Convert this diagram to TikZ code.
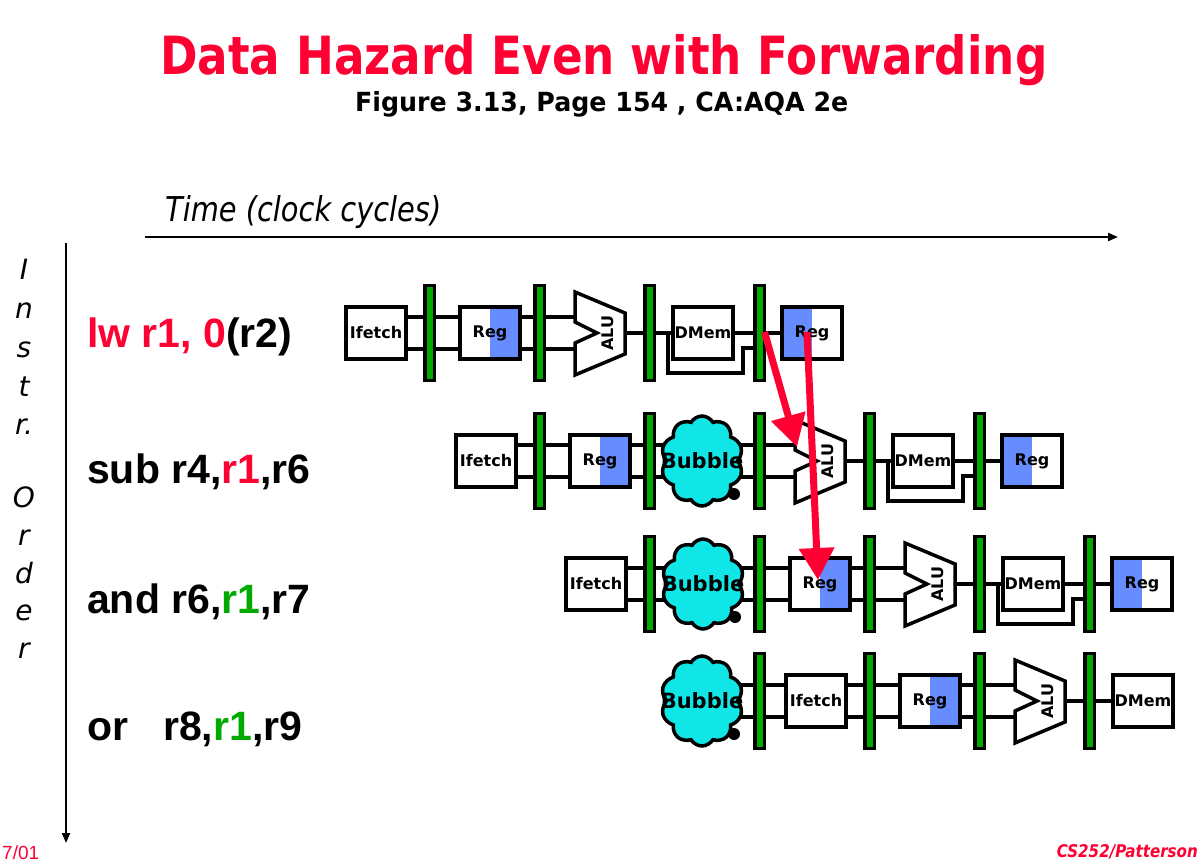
\documentclass[tikz,border=0pt]{standalone}
\usepackage{fontspec}
\setmainfont{Liberation Sans}
\newfontfamily\handfont{DejaVu Sans}
\usetikzlibrary{shapes.symbols,arrows.meta,calc}

\definecolor{hazred}{RGB}{255,0,51}
\definecolor{dkgreen}{RGB}{0,170,0}
\definecolor{latchgreen}{RGB}{0,168,0}
\definecolor{regblue}{RGB}{102,140,255}
\definecolor{bubblecyan}{RGB}{16,230,230}

\pgfdeclarelayer{wires}
\pgfsetlayers{wires,main}

% two parallel datapath wires, one single wire, and the bypass loop round DMem
\newcommand\dwire[2]{\draw[wire] ([yshift=16pt]#1) -- ([yshift=16pt]#2) ([yshift=-16pt]#1) -- ([yshift=-16pt]#2);}
\newcommand\swire[2]{\draw[wire] (#1) -- (#2);}
\newcommand\bypass[2]{\draw[wire] ($(#1.east)+(12,0)$) |- ($(#2.west)+(-10,40)$) |- ($(#2.west)+(0,15)$);}

\tikzset{
  lbl/.style={font=\handfont\bfseries\fontsize{16}{16}\selectfont},
  stagebox/.style={lbl, draw, line width=3.5pt, fill=white, minimum width=60pt,
    minimum height=52pt, inner sep=0pt},
  regR/.style={stagebox, path picture={\fill[regblue] (path picture bounding box.north)
    rectangle (path picture bounding box.south east);}},
  regL/.style={stagebox, path picture={\fill[regblue] (path picture bounding box.north west)
    rectangle (path picture bounding box.south);}},
  latch/.style={draw, line width=3.5pt, fill=latchgreen, minimum width=9.5pt,
    minimum height=95pt, inner sep=0pt},
  wire/.style={line width=3.2pt},
  bubble/.style={cloud, cloud puffs=10, cloud puff arc=120, cloud ignores aspect,
    draw, line width=3.5pt, fill=bubblecyan, minimum width=82pt, minimum height=90pt,
    inner sep=0pt},
  bubtext/.style={font=\handfont\bfseries\fontsize{21}{21}\selectfont, inner sep=0pt},
  tailball/.style={circle, fill=black, minimum size=12pt, inner sep=0pt},
  fwd/.style={hazred, line width=7pt, -{Triangle[length=32pt,width=34pt]}},
  axis/.style={line width=2pt, -{Triangle[length=10pt,width=8pt]}},
  instr/.style={anchor=base west, inner sep=0pt, font=\bfseries\fontsize{41}{41}\selectfont},
  ordlbl/.style={anchor=base, inner sep=0pt, font=\handfont\itshape\fontsize{28}{28}\selectfont},
  alu/.pic={
    \draw[line width=3.5pt, fill=white, line join=miter]
      (0,-41) -- (50,-20) -- (50,21) -- (0,42) -- (0,10) -- (22,0) -- (0,-11) -- cycle;
    \node[lbl, rotate=90, inner sep=0pt] (-lbl) at (33,0) {ALU};
    \coordinate (-in) at (0,0);
    \coordinate (-out) at (50,0);
  }
}

\begin{document}
\begin{tikzpicture}[x=1pt, y=-1pt]
\useasboundingbox (0,0) rectangle (1200,864);

% headings
\node[anchor=base west, inner sep=0pt, text=hazred] (title) at (160,75)
  {\resizebox{887pt}{40pt}{\handfont\bfseries Data Hazard Even with Forwarding}};
\node[anchor=base west, inner sep=0pt] (subtitle) at (355,112)
  {\resizebox{493pt}{20pt}{\handfont\bfseries Figure 3.13, Page 154 , CA:AQA 2e}};
\node[anchor=base west, inner sep=0pt] (timelbl) at (165,222)
  {\resizebox{276pt}{26pt}{\handfont\itshape Time (clock cycles)}};

% axes
\coordinate (tstart) at (145,237);
\coordinate (tend) at (1118,237);
\draw[axis] (tstart) -- (tend);
\coordinate (ostart) at (66,243);
\coordinate (oend) at (66,843);
\draw[axis] (ostart) -- (oend);

% vertical axis caption
\foreach \ch/\yy [count=\i] in {I/279, n/318, s/357, t/396, r./434, O/507, r/545, d/583, e/620, r/658}
  \node[ordlbl] (ord\i) at (24,\yy) {\ch};

% instructions
\node[instr] (i1) at (87,347) {\textcolor{hazred}{lw r1, 0}(r2)};
\node[instr] (i2) at (87,483) {sub r4,\textcolor{hazred}{r1},r6};
\node[instr] (i3) at (87,613) {and r6,\textcolor{dkgreen}{r1},r7};
\node[instr] (i4) at (87,740) {or\hspace{35pt}r8,\textcolor{dkgreen}{r1},r9};

% ---- row 1: lw
\node[stagebox] (r1if) at (376,333) {Ifetch};
\node[latch] (r1l0) at (429.5,333) {};
\node[regR] (r1id) at (490,333) {Reg};
\node[latch] (r1l1) at (539.5,333) {};
\pic (r1alu) at (575,333) {alu};
\node[latch] (r1l2) at (649.5,333) {};
\node[stagebox] (r1mem) at (703,333) {DMem};
\node[latch] (r1l3) at (759.5,333) {};
\node[regL] (r1wb) at (812,333) {Reg};

% ---- row 2: sub
\node[stagebox] (r2if) at (486,461) {Ifetch};
\node[latch] (r2l1) at (539.5,461) {};
\node[regR] (r2id) at (600,461) {Reg};
\node[latch] (r2l2) at (649.5,461) {};
\node[bubble] (r2bub) at (702,461) {};
\node[bubtext] (r2bubt) at (r2bub.center) {Bubble};
\node[tailball] (r2tail) at ($(r2bub.center)+(32,33)$) {};
\node[latch] (r2l3) at (759.5,461) {};
\pic (r2alu) at (795,461) {alu};
\node[latch] (r2l4) at (869.5,461) {};
\node[stagebox] (r2mem) at (923,461) {DMem};
\node[latch] (r2l5) at (979.5,461) {};
\node[regL] (r2wb) at (1032,461) {Reg};

% ---- row 3: and
\node[stagebox] (r3if) at (596,584) {Ifetch};
\node[latch] (r3l2) at (649.5,584) {};
\node[bubble] (r3bub) at (703,584) {};
\node[bubtext] (r3bubt) at (r3bub.center) {Bubble};
\node[tailball] (r3tail) at ($(r3bub.center)+(32,33)$) {};
\node[latch] (r3l3) at (759.5,584) {};
\node[regR] (r3id) at (820,584) {Reg};
\node[latch] (r3l4) at (869.5,584) {};
\pic (r3alu) at (905,584) {alu};
\node[latch] (r3l5) at (979.5,584) {};
\node[stagebox] (r3mem) at (1033,584) {DMem};
\node[latch] (r3l6) at (1089.5,584) {};
\node[regL] (r3wb) at (1142,584) {Reg};

% ---- row 4: or
\node[bubble] (r4bub) at (702,701) {};
\node[bubtext] (r4bubt) at (r4bub.center) {Bubble};
\node[tailball] (r4tail) at ($(r4bub.center)+(32,33)$) {};
\node[latch] (r4l3) at (759.5,701) {};
\node[stagebox] (r4if) at (816,701) {Ifetch};
\node[latch] (r4l4) at (869.5,701) {};
\node[regR] (r4id) at (930,701) {Reg};
\node[latch] (r4l5) at (979.5,701) {};
\pic (r4alu) at (1015,701) {alu};
\node[latch] (r4l6) at (1089.5,701) {};
\node[stagebox] (r4mem) at (1143,701) {DMem};

% datapath wiring, kept behind the stages
\begin{pgfonlayer}{wires}
  \dwire{r1if.east}{r1l0.west} \dwire{r1l0.east}{r1id.west}
  \dwire{r1id.east}{r1l1.west} \dwire{r1l1.east}{r1alu-in}
  \swire{r1alu-out}{r1l2.west} \swire{r1l2.east}{r1mem.west}
  \swire{r1mem.east}{r1l3.west} \bypass{r1l2}{r1l3}
  \swire{r1l3.east}{r1wb.west}

  \dwire{r2if.east}{r2l1.west} \dwire{r2l1.east}{r2id.west}
  \dwire{r2id.east}{r2l2.west} \dwire{r2l2.east}{r2l3.west}
  \dwire{r2l3.east}{r2alu-in}
  \swire{r2alu-out}{r2l4.west} \swire{r2l4.east}{r2mem.west}
  \swire{r2mem.east}{r2l5.west} \bypass{r2l4}{r2l5}
  \swire{r2l5.east}{r2wb.west}

  \dwire{r3if.east}{r3l2.west} \dwire{r3l2.east}{r3l3.west}
  \dwire{r3l3.east}{r3id.west} \dwire{r3id.east}{r3l4.west}
  \dwire{r3l4.east}{r3alu-in}
  \swire{r3alu-out}{r3l5.west} \swire{r3l5.east}{r3mem.west}
  \swire{r3mem.east}{r3l6.west} \bypass{r3l5}{r3l6}
  \swire{r3l6.east}{r3wb.west}

  \dwire{r4bub.center}{r4l3.west} \dwire{r4l3.east}{r4if.west}
  \dwire{r4if.east}{r4l4.west} \dwire{r4l4.east}{r4id.west}
  \dwire{r4id.east}{r4l5.west} \dwire{r4l5.east}{r4alu-in}
  \swire{r4alu-out}{r4l6.west} \swire{r4l6.east}{r4mem.west}
\end{pgfonlayer}

% forwarding paths from the load
\draw[fwd] ($(r1l3.center)+(5,-1)$) -- ($(r2alu-in)+(2,-14)$);
\draw[fwd] ($(r1wb.center)+(-5,-1)$) -- ($(r3id.center)+(-2,-4)$);

% footer
\node[anchor=base east, inner sep=0pt, text=hazred] (credit) at (1198,857)
  {\resizebox{141pt}{13pt}{\handfont\bfseries\itshape CS252/Patterson}};
\node[anchor=base west, inner sep=0pt, text=hazred, font=\fontsize{19}{19}\selectfont] (date) at (2,859) {7/01};
\end{tikzpicture}
\end{document}
